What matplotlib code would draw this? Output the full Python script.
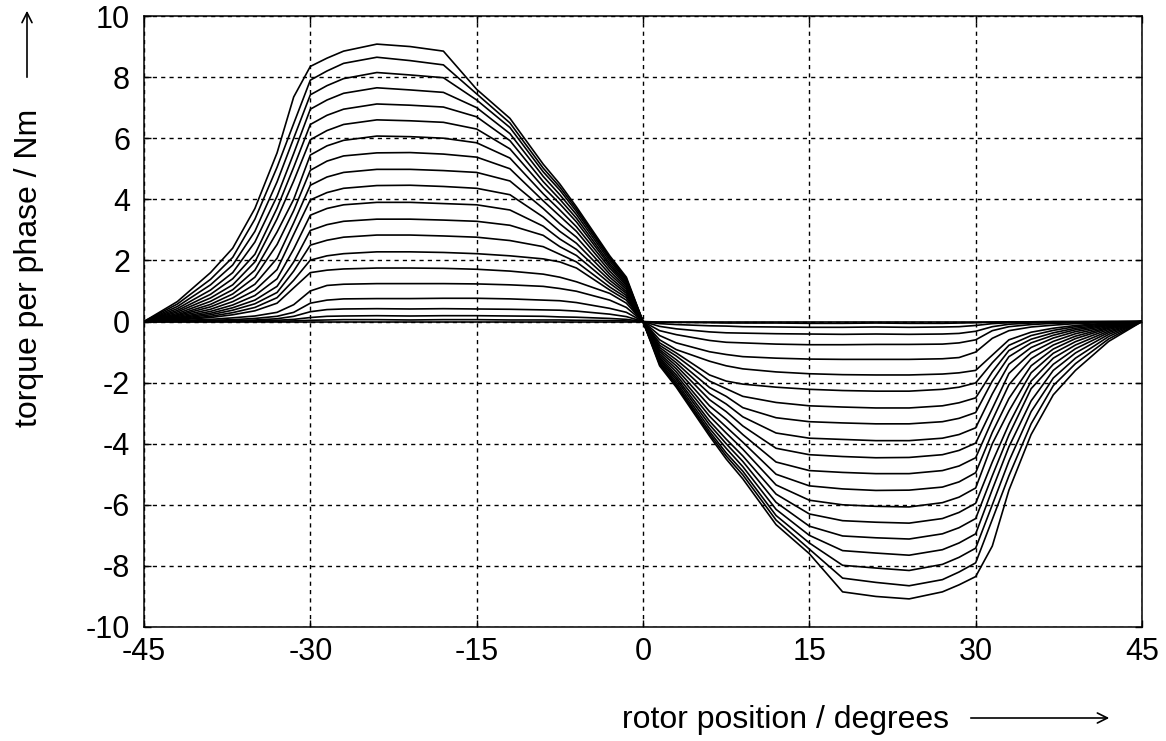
import matplotlib
matplotlib.use("Agg")
import matplotlib.pyplot as plt
from matplotlib.patches import FancyArrowPatch

# rotor angle (degrees) for the left half; right half is the mirror image
angle_left = [-45, -42, -39, -37, -35, -33, -31.5, -30, -28.5, -27, -24, -21,
              -18, -15, -12, -9, -7.5, -6, -3, -1.5, 0]

# torque per phase (Nm), one row per phase current
torque_left = [
    [0, 0.65, 1.60, 2.40, 3.70, 5.52, 7.35, 8.35, 8.62, 8.85, 9.08, 9.00, 8.85, 7.60, 6.65, 5.15, 4.50, 3.75, 2.15, 1.45, 0],
    [0, 0.57, 1.38, 2.10, 3.35, 5.05, 6.48, 7.90, 8.20, 8.45, 8.65, 8.54, 8.40, 7.45, 6.50, 5.02, 4.40, 3.68, 2.10, 1.40, 0],
    [0, 0.49, 1.20, 1.85, 2.95, 4.57, 6.00, 7.42, 7.72, 7.95, 8.15, 8.07, 7.98, 7.25, 6.35, 4.90, 4.30, 3.60, 2.05, 1.36, 0],
    [0, 0.42, 1.03, 1.60, 2.60, 4.10, 5.50, 6.95, 7.25, 7.47, 7.65, 7.58, 7.50, 7.00, 6.15, 4.75, 4.15, 3.50, 1.98, 1.32, 0],
    [0, 0.36, 0.89, 1.40, 2.20, 3.71, 5.05, 6.45, 6.75, 6.95, 7.12, 7.08, 7.02, 6.70, 5.92, 4.58, 4.00, 3.38, 1.90, 1.27, 0],
    [0, 0.31, 0.77, 1.20, 1.95, 3.36, 4.60, 5.95, 6.25, 6.45, 6.60, 6.57, 6.52, 6.30, 5.65, 4.40, 3.85, 3.26, 1.83, 1.22, 0],
    [0, 0.26, 0.66, 1.04, 1.68, 2.93, 4.00, 5.45, 5.75, 5.93, 6.07, 6.05, 6.00, 5.85, 5.35, 4.18, 3.65, 3.10, 1.75, 1.17, 0],
    [0, 0.22, 0.56, 0.90, 1.45, 2.52, 3.63, 4.95, 5.25, 5.42, 5.52, 5.53, 5.48, 5.38, 5.00, 3.95, 3.45, 2.95, 1.65, 1.11, 0],
    [0, 0.19, 0.48, 0.77, 1.22, 2.07, 3.23, 4.46, 4.73, 4.88, 4.98, 4.98, 4.94, 4.88, 4.60, 3.70, 3.20, 2.76, 1.55, 1.05, 0],
    [0, 0.16, 0.40, 0.65, 1.02, 1.70, 2.85, 3.98, 4.22, 4.36, 4.45, 4.46, 4.42, 4.36, 4.15, 3.42, 2.95, 2.56, 1.45, 0.98, 0],
    [0, 0.13, 0.33, 0.54, 0.85, 1.40, 2.37, 3.48, 3.70, 3.82, 3.90, 3.90, 3.86, 3.82, 3.65, 3.12, 2.70, 2.36, 1.35, 0.92, 0],
    [0, 0.11, 0.27, 0.45, 0.70, 1.15, 1.95, 2.98, 3.17, 3.28, 3.35, 3.35, 3.32, 3.28, 3.15, 2.82, 2.45, 2.16, 1.25, 0.85, 0],
    [0, 0.09, 0.22, 0.37, 0.58, 0.95, 1.65, 2.50, 2.66, 2.76, 2.83, 2.83, 2.80, 2.76, 2.65, 2.45, 2.20, 1.95, 1.13, 0.78, 0],
    [0, 0.07, 0.17, 0.29, 0.46, 0.78, 1.35, 2.01, 2.15, 2.22, 2.28, 2.28, 2.26, 2.22, 2.15, 2.05, 1.95, 1.75, 1.03, 0.70, 0],
    [0, 0.05, 0.13, 0.22, 0.35, 0.60, 1.10, 1.60, 1.68, 1.72, 1.75, 1.75, 1.74, 1.71, 1.65, 1.55, 1.45, 1.30, 0.92, 0.60, 0],
    [0, 0.03, 0.07, 0.12, 0.18, 0.30, 0.55, 1.00, 1.18, 1.22, 1.24, 1.24, 1.24, 1.23, 1.20, 1.15, 1.08, 0.99, 0.70, 0.46, 0],
    [0, 0.015, 0.04, 0.06, 0.10, 0.17, 0.30, 0.60, 0.70, 0.74, 0.75, 0.75, 0.76, 0.76, 0.74, 0.70, 0.68, 0.62, 0.43, 0.30, 0],
    [0, 0.01, 0.02, 0.03, 0.05, 0.09, 0.17, 0.32, 0.39, 0.41, 0.42, 0.41, 0.42, 0.41, 0.40, 0.38, 0.37, 0.34, 0.24, 0.16, 0],
    [0, 0, 0.01, 0.01, 0.02, 0.04, 0.07, 0.13, 0.17, 0.18, 0.19, 0.18, 0.19, 0.19, 0.18, 0.17, 0.15, 0.14, 0.10, 0.07, 0],
    [0, 0, 0, 0, 0.01, 0.01, 0.02, 0.04, 0.05, 0.06, 0.06, 0.05, 0.06, 0.06, 0.05, 0.05, 0.05, 0.04, 0.03, 0.02, 0],
    [0, 0, 0, 0, 0, 0, 0, 0, 0, 0, 0, 0, 0, 0, 0, 0, 0, 0, 0, 0, 0],
]

x_ticks = [-45, -30, -15, 0, 15, 30, 45]
y_ticks = [-10, -8, -6, -4, -2, 0, 2, 4, 6, 8, 10]

plt.rcParams['font.family'] = ['Liberation Sans', 'DejaVu Sans']
plt.rcParams['axes.unicode_minus'] = False

W, H = 1166, 741
fig = plt.figure(figsize=(W / 100, H / 100), dpi=100)
ax = fig.add_axes([144 / W, 1 - 627 / H, (1142 - 144) / W, (627 - 16) / H])

# full curve = left half + mirrored right half (torque is antisymmetric)
angle_right = [-a for a in reversed(angle_left)][1:]
for row in torque_left:
    right = [-t for t in reversed(row)][1:]
    ax.plot(angle_left + angle_right, row + right, color='black', linewidth=1.2)

ax.set_xlim(-45, 45)
ax.set_ylim(-10, 10)
ax.set_xticks(x_ticks)
ax.set_yticks(y_ticks)
ax.tick_params(direction='in', length=5, width=1, labelsize=22,
               top=True, right=True)
ax.tick_params(axis='y', pad=10)
ax.tick_params(axis='x', pad=7)
ax.grid(True, color='black', linestyle=(0, (3, 3)), linewidth=1.0)
for s in ax.spines.values():
    s.set_linewidth(1.1)

# axis labels with long arrows, gnuplot style
fig.text(622 / W, 1 - 728 / H, 'rotor position / degrees',
         fontsize=23, ha='left', va='baseline')
fig.add_artist(FancyArrowPatch(
    (968 / W, 1 - 718 / H), (1112 / W, 1 - 718 / H),
    transform=fig.transFigure, arrowstyle='->', mutation_scale=18,
    color='black', linewidth=1.2))
fig.text(29 / W, 1 - 268 / H, 'torque per phase / Nm',
         fontsize=23, rotation=90, ha='center', va='center')
fig.add_artist(FancyArrowPatch(
    (27 / W, 1 - 80 / H), (27 / W, 1 - 8 / H),
    transform=fig.transFigure, arrowstyle='->', mutation_scale=18,
    color='black', linewidth=1.2))

fig.savefig('out.png', dpi=100)
